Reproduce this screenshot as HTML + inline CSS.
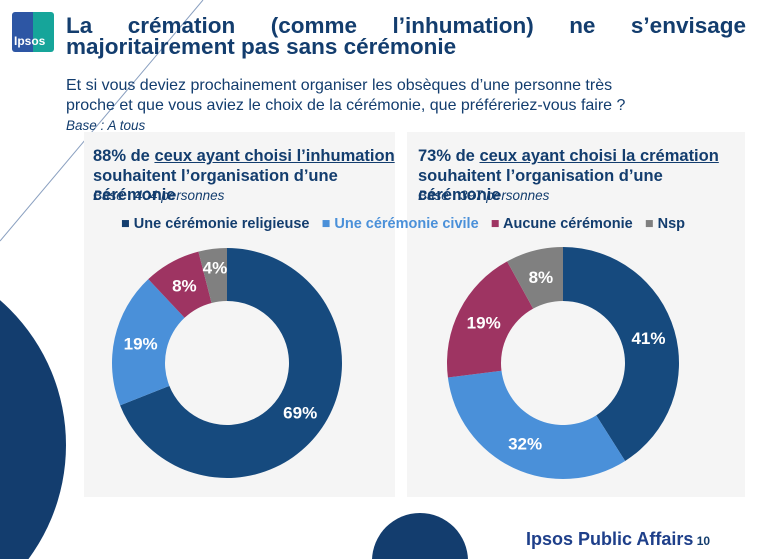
<!DOCTYPE html>
<html style="overflow:hidden"><head><meta charset="utf-8"><style>
html,body{margin:0;width:757px;height:559px;overflow:hidden}
body{background:#fff;font-family:"Liberation Sans",sans-serif;position:relative}
.a{position:absolute}
.title{left:66px;top:15px;font-size:22.5px;font-weight:bold;color:#133d6e;line-height:21px;width:680px;text-align:justify;text-align-last:left;letter-spacing:0px}
.q{left:66px;top:76px;font-size:16px;color:#133d6e;line-height:20px}
.panel{background:#f5f5f5;top:132px;height:365px}
.ph{font-size:16.5px;font-weight:bold;color:#133d6e;line-height:19.5px}
.ph u{text-decoration:underline}
.base{font-size:13.5px;font-style:italic;color:#133d6e}
</style></head><body>
<svg class="a" style="left:0;top:0" width="757" height="559">
<line x1="203" y1="0" x2="0" y2="241" stroke="#8aa0c0" stroke-width="1"/>
</svg>
<div class="a panel" style="left:84px;width:311px"></div>
<div class="a panel" style="left:407px;width:338px"></div>
<svg class="a" style="left:0;top:0" width="757" height="559">
<circle cx="-126" cy="445" r="192" fill="#133d6e"/>
<circle cx="420" cy="561" r="48" fill="#133d6e"/>
</svg>
<div class="a" style="left:12px;top:12px;width:42px;height:40px;background:linear-gradient(90deg,#2d56a4 50%,#16a59a 50%);border-radius:3px"><span style="position:absolute;left:2px;top:22px;color:#fff;font-size:12px;font-weight:bold">Ipsos</span></div>
<div class="a title">La crémation (comme l’inhumation) ne s’envisage majoritairement pas sans cérémonie</div>
<div class="a q">Et si vous deviez prochainement organiser les obsèques d’une personne très<br>proche et que vous aviez le choix de la cérémonie, que préféreriez-vous faire ?<br><i style="font-size:13.5px;line-height:16px">Base : A tous</i></div>
<div class="a ph" style="left:93px;top:147px;width:310px">88% de <u>ceux ayant choisi l’inhumation</u> souhaitent l’organisation d’une cérémonie</div>
<div class="a base" style="left:93px;top:188px">Base : 404 personnes</div>
<div class="a ph" style="left:418px;top:147px;width:315px">73% de <u>ceux ayant choisi la crémation</u> souhaitent l’organisation d’une cérémonie</div>
<div class="a base" style="left:418px;top:188px">Base : 397 personnes</div>
<div class="a" style="left:121px;top:216px;font-size:14.5px;font-weight:bold;white-space:nowrap">
<span style="color:#133d6e">■ Une cérémonie religieuse</span>&nbsp;&nbsp;
<span style="color:#4a90d9">■ Une cérémonie civile</span>&nbsp;&nbsp;
<span style="color:#133d6e"><span style="color:#9e3462">■</span> Aucune cérémonie</span>&nbsp;&nbsp;
<span style="color:#133d6e"><span style="color:#7f7f7f">■</span> Nsp</span></div>
<svg id="ch" class="a" style="left:0;top:0" width="757" height="559"></svg>
<div class="a" style="left:526px;top:529px;font-size:18px;font-weight:bold;color:#1e3f8a;white-space:nowrap;line-height:20px">Ipsos Public Affairs<span style="font-size:12px;color:#133d6e"> 10</span></div>
<script>
const categories=["Une cérémonie religieuse","Une cérémonie civile","Aucune cérémonie","Nsp"];
const inhumationValues=[69,19,8,4];
const cremationValues=[41,32,19,8];
const colors=["#164a7e","#4a90d9","#9e3462","#808080"];
const svg=document.getElementById('ch');
const NS="http://www.w3.org/2000/svg";
function donut(vals,cx,cy,R,r,name){
 const tot=vals.reduce((a,b)=>a+b,0);let a0=0;
 vals.forEach((v,i)=>{
  const a1=a0+v/tot*2*Math.PI;
  const p=(a,rad)=>[cx+rad*Math.sin(a),cy-rad*Math.cos(a)];
  const [x0,y0]=p(a0,R),[x1,y1]=p(a1,R),[x2,y2]=p(a1,r),[x3,y3]=p(a0,r);
  const lg=(a1-a0)>Math.PI?1:0;
  const path=document.createElementNS(NS,'path');
  path.setAttribute('d',`M${x0},${y0}A${R},${R} 0 ${lg} 1 ${x1},${y1}L${x2},${y2}A${r},${r} 0 ${lg} 0 ${x3},${y3}Z`);
  path.setAttribute('fill',colors[i]);
  
  
  svg.appendChild(path);
  const am=(a0+a1)/2,[tx,ty]=p(am,(R+r)/2+(v<6?8:0));
  const t=document.createElementNS(NS,'text');
  t.setAttribute('x',tx);t.setAttribute('y',ty+6);t.setAttribute('text-anchor','middle');
  t.setAttribute('font-size','17');t.setAttribute('font-weight','bold');t.setAttribute('fill','#fff');
  t.setAttribute('font-family','Liberation Sans, sans-serif');
  
  
  t.textContent=v+'%';svg.appendChild(t);
  a0=a1;});
}
donut(inhumationValues,227,363,115,62,'inhumation');
donut(cremationValues,563,363,116,62,'cremation');
</script>
</body></html>
